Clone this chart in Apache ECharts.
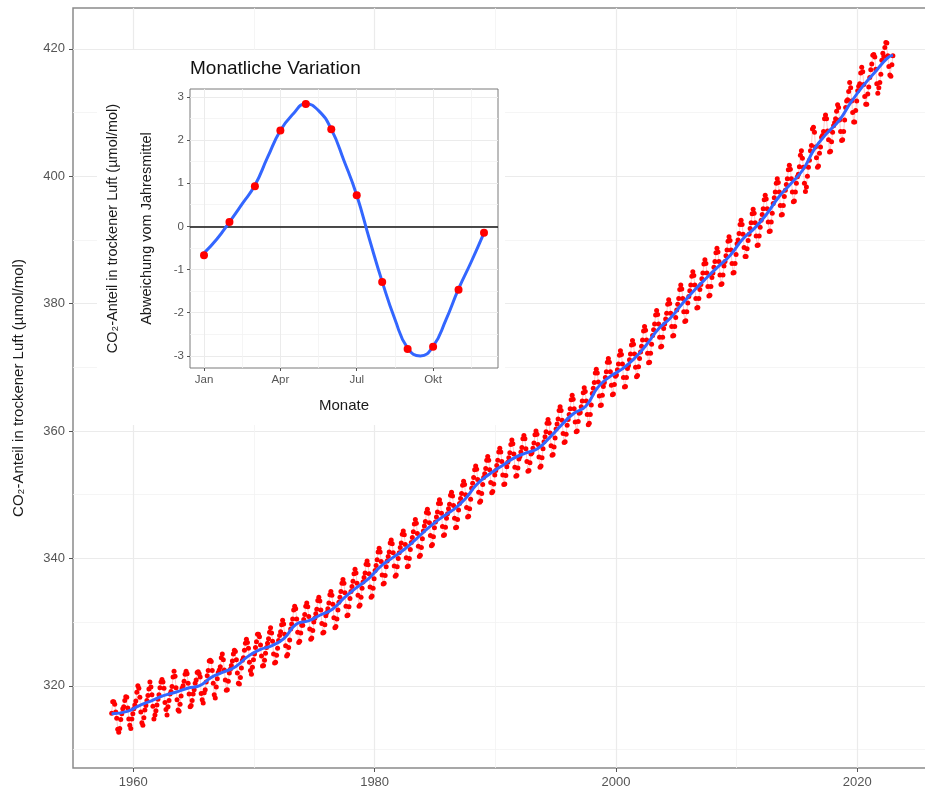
<!DOCTYPE html>
<html>
<head>
<meta charset="utf-8">
<script src="https://cdn.jsdelivr.net/npm/echarts@6.0.0/dist/echarts.min.js"></script>
<style>
  html, body { margin: 0; padding: 0; background: #fff; }
  #main { width: 925px; height: 793px; }
</style>
</head>
<body>
<div id="main"></div>
<script>
// Monatswerte CO2 (Mauna Loa), eine Zeile je Jahr, Jan..Dez
var co2Years = [1958, 1959, 1960, 1961, 1962, 1963, 1964, 1965, 1966, 1967, 1968, 1969,
  1970, 1971, 1972, 1973, 1974, 1975, 1976, 1977, 1978, 1979, 1980, 1981, 1982, 1983,
  1984, 1985, 1986, 1987, 1988, 1989, 1990, 1991, 1992, 1993, 1994, 1995, 1996, 1997,
  1998, 1999, 2000, 2001, 2002, 2003, 2004, 2005, 2006, 2007, 2008, 2009, 2010, 2011,
  2012, 2013, 2014, 2015, 2016, 2017, 2018, 2019, 2020, 2021, 2022];
var co2Monthly = [
  [null, null, 315.7, 317.5, 317.5, 317.1, 315.9, 314.9, 313.2, 312.7, 313.3, 314.7],
  [315.6, 316.4, 316.7, 317.7, 318.3, 318.2, 316.5, 314.8, 313.8, 313.3, 314.8, 315.6],
  [316.4, 317.0, 317.6, 319.0, 320.0, 319.6, 318.2, 315.9, 314.2, 313.8, 315.0, 316.2],
  [316.9, 317.7, 318.5, 319.5, 320.6, 319.8, 318.6, 316.8, 314.8, 315.4, 316.1, 317.0],
  [317.9, 318.6, 319.7, 320.6, 321.0, 320.6, 319.6, 317.4, 316.3, 315.4, 316.7, 317.7],
  [318.7, 319.1, 319.9, 321.4, 322.3, 321.5, 319.7, 317.8, 316.2, 316.0, 317.1, 318.4],
  [319.6, 320.0, 320.7, 321.8, 322.3, 321.9, 320.4, 318.7, 316.7, 316.9, 317.7, 318.7],
  [319.4, 320.4, 320.9, 322.1, 322.2, 321.9, 321.4, 318.8, 317.8, 317.3, 318.9, 319.4],
  [320.6, 321.6, 322.4, 323.9, 324.0, 323.8, 322.4, 320.4, 318.6, 318.1, 319.8, 321.1],
  [322.1, 322.5, 323.0, 324.4, 325.0, 324.1, 322.5, 320.9, 319.3, 319.4, 320.7, 322.0],
  [322.6, 323.2, 323.9, 325.0, 325.6, 325.4, 324.1, 322.0, 320.4, 320.3, 321.3, 322.8],
  [324.0, 324.4, 325.6, 326.7, 327.3, 326.8, 325.9, 323.7, 322.4, 321.8, 322.9, 324.1],
  [325.0, 326.0, 326.9, 328.1, 328.1, 327.7, 326.4, 324.7, 323.1, 323.2, 324.0, 325.1],
  [326.0, 326.7, 327.4, 328.4, 329.1, 328.3, 327.0, 325.0, 323.6, 323.7, 324.8, 325.9],
  [327.1, 327.9, 328.5, 329.6, 330.3, 329.7, 328.1, 326.3, 324.7, 324.9, 326.0, 327.2],
  [328.9, 329.7, 330.5, 331.9, 332.5, 332.1, 330.5, 328.4, 326.8, 327.0, 328.3, 329.5],
  [329.5, 330.4, 331.2, 332.5, 333.0, 332.4, 330.9, 328.9, 327.3, 327.5, 328.7, 330.0],
  [330.6, 331.3, 332.0, 333.4, 333.9, 333.3, 331.9, 329.8, 328.3, 328.4, 329.6, 331.0],
  [331.5, 332.1, 333.0, 334.3, 334.8, 334.2, 332.8, 330.7, 329.1, 329.3, 330.5, 331.9],
  [333.1, 333.9, 334.8, 336.1, 336.7, 336.1, 334.6, 332.5, 331.0, 331.1, 332.4, 333.7],
  [334.8, 335.6, 336.4, 337.6, 338.3, 337.7, 336.1, 334.2, 332.5, 332.7, 333.9, 335.3],
  [336.3, 337.0, 337.7, 339.1, 339.6, 339.0, 337.6, 335.5, 333.9, 334.1, 335.3, 336.8],
  [338.1, 338.9, 339.8, 341.0, 341.6, 341.0, 339.5, 337.4, 336.0, 336.1, 337.3, 338.7],
  [339.6, 340.3, 341.0, 342.4, 342.9, 342.3, 340.9, 338.8, 337.2, 337.4, 338.7, 340.0],
  [340.9, 341.7, 342.4, 343.8, 344.3, 343.7, 342.2, 340.1, 338.7, 338.8, 340.0, 341.4],
  [342.5, 343.3, 344.2, 345.4, 346.1, 345.5, 343.9, 341.9, 340.3, 340.5, 341.7, 343.1],
  [344.3, 345.1, 345.8, 347.2, 347.7, 347.1, 345.6, 343.6, 342.0, 342.2, 343.4, 344.8],
  [345.7, 346.5, 347.3, 348.6, 349.2, 348.6, 347.1, 345.0, 343.6, 343.7, 344.9, 346.3],
  [347.0, 347.8, 348.5, 349.9, 350.4, 349.8, 348.3, 346.3, 344.8, 344.9, 346.1, 347.6],
  [348.6, 349.4, 350.2, 351.5, 352.1, 351.6, 350.0, 348.0, 346.5, 346.6, 347.8, 349.3],
  [351.0, 351.8, 352.7, 353.9, 354.5, 354.0, 352.4, 350.4, 348.8, 349.0, 350.2, 351.6],
  [352.7, 353.3, 354.1, 355.4, 356.0, 355.4, 353.9, 351.9, 350.3, 350.5, 351.7, 353.1],
  [353.8, 354.6, 355.4, 356.7, 357.3, 356.7, 355.2, 353.1, 351.6, 351.7, 353.0, 354.4],
  [355.1, 355.8, 356.6, 357.9, 358.6, 358.0, 356.4, 354.3, 352.9, 353.0, 354.2, 355.6],
  [356.0, 356.7, 357.4, 358.8, 359.3, 358.8, 357.2, 355.2, 353.7, 353.8, 355.0, 356.4],
  [356.6, 357.3, 358.1, 359.4, 360.0, 359.5, 357.9, 355.9, 354.3, 354.5, 355.8, 357.2],
  [358.3, 359.1, 359.9, 361.2, 361.8, 361.2, 359.7, 357.7, 356.2, 356.3, 357.5, 358.9],
  [360.3, 361.1, 361.9, 363.2, 363.8, 363.2, 361.7, 359.6, 358.2, 358.3, 359.5, 360.9],
  [361.8, 362.6, 363.5, 364.9, 365.6, 365.0, 363.5, 361.4, 359.9, 360.0, 361.5, 362.8],
  [362.9, 363.8, 364.7, 366.0, 366.8, 366.2, 364.7, 362.6, 361.0, 361.2, 362.6, 364.1],
  [365.9, 366.7, 367.6, 369.1, 369.7, 369.1, 367.7, 365.5, 364.0, 364.1, 365.6, 367.0],
  [367.6, 368.4, 369.3, 370.8, 371.4, 370.8, 369.3, 367.2, 365.7, 365.8, 367.3, 368.6],
  [368.8, 369.6, 370.5, 371.9, 372.6, 372.0, 370.5, 368.4, 366.9, 367.0, 368.4, 369.8],
  [370.3, 371.2, 372.1, 373.5, 374.2, 373.6, 372.1, 370.0, 368.5, 368.7, 370.1, 371.4],
  [372.4, 373.3, 374.3, 375.7, 376.4, 375.8, 374.3, 372.2, 370.7, 370.8, 372.2, 373.6],
  [375.0, 375.9, 376.8, 378.2, 378.9, 378.3, 376.8, 374.7, 373.2, 373.3, 374.7, 376.1],
  [376.8, 377.6, 378.5, 379.9, 380.6, 380.0, 378.5, 376.4, 374.9, 375.0, 376.4, 377.8],
  [379.0, 379.9, 380.8, 382.2, 382.9, 382.3, 380.8, 378.7, 377.2, 377.3, 378.7, 380.1],
  [381.1, 382.0, 382.9, 384.3, 385.0, 384.4, 382.9, 380.8, 379.3, 379.4, 380.8, 382.2],
  [383.0, 383.9, 384.8, 386.2, 386.9, 386.3, 384.8, 382.7, 381.2, 381.3, 382.7, 384.1],
  [384.8, 385.7, 386.6, 388.0, 388.7, 388.1, 386.6, 384.5, 383.0, 383.1, 384.5, 385.9],
  [386.6, 387.5, 388.4, 389.8, 390.5, 389.9, 388.4, 386.3, 384.8, 384.9, 386.3, 387.7],
  [389.4, 390.0, 391.0, 392.4, 393.1, 392.4, 390.9, 388.8, 387.4, 387.4, 388.6, 389.9],
  [390.9, 391.8, 392.7, 394.1, 394.8, 394.2, 392.7, 390.6, 389.1, 389.2, 390.6, 392.0],
  [393.1, 394.0, 394.9, 396.3, 397.0, 396.4, 394.9, 392.8, 391.3, 391.4, 392.8, 394.2],
  [395.7, 396.6, 397.5, 398.9, 399.6, 399.0, 397.5, 395.4, 393.9, 394.0, 395.4, 396.8],
  [397.8, 398.7, 399.6, 401.0, 401.7, 401.1, 399.6, 397.5, 396.0, 396.1, 397.5, 398.9],
  [399.9, 400.3, 401.5, 403.3, 404.0, 402.8, 401.4, 398.9, 397.6, 398.3, 400.0, 401.4],
  [402.5, 404.0, 404.8, 407.4, 407.7, 406.9, 404.6, 402.9, 401.4, 401.6, 403.6, 404.6],
  [406.1, 406.4, 407.0, 409.0, 409.6, 409.0, 407.1, 405.7, 403.8, 403.9, 405.4, 406.9],
  [407.9, 408.4, 409.0, 410.2, 411.2, 410.8, 408.8, 407.0, 405.6, 405.7, 407.0, 408.8],
  [410.8, 411.8, 412.0, 413.3, 414.7, 413.9, 411.8, 410.0, 408.5, 408.5, 410.3, 411.8],
  [413.4, 414.1, 414.5, 416.2, 417.1, 416.4, 414.4, 412.5, 411.3, 411.3, 412.9, 414.0],
  [415.5, 416.7, 417.6, 419.0, 419.1, 418.7, 416.8, 414.5, 413.0, 413.9, 414.7, 416.0],
  [418.2, 419.3, 418.8, 420.2, 421.0, 420.9, 418.9, 417.2, 415.9, 415.7, 417.5, 418.9]
];

// geglaetteter Trend (blaue Linie)
var trendYears = [1958.2, 1959.5, 1960.5, 1961.5, 1962.5, 1963.5, 1964.5, 1965.5, 1966.5,
  1967.5, 1968.5, 1969.5, 1970.5, 1971.5, 1972.5, 1973.5, 1974.5, 1975.5, 1976.5, 1977.5,
  1978.5, 1979.5, 1980.5, 1981.5, 1982.5, 1983.5, 1984.5, 1985.5, 1986.5, 1987.5, 1988.5,
  1989.5, 1990.5, 1991.5, 1992.5, 1993.5, 1994.5, 1995.5, 1996.5, 1997.5, 1998.5, 1999.5,
  2000.5, 2001.5, 2002.5, 2003.5, 2004.5, 2005.5, 2006.5, 2007.5, 2008.5, 2009.5, 2010.5,
  2011.5, 2012.5, 2013.5, 2014.5, 2015.5, 2016.5, 2017.5, 2018.5, 2019.5, 2020.5, 2021.5,
  2022.5, 2022.96];
var trendValues = [315.6, 315.98, 316.91, 317.64, 318.45, 318.99, 319.62, 320.04, 321.37,
  322.18, 323.05, 324.62, 325.68, 326.32, 327.46, 329.68, 330.19, 331.12, 332.03, 333.84,
  335.41, 336.84, 338.76, 340.12, 341.48, 343.15, 344.87, 346.35, 347.61, 349.31, 351.69,
  353.20, 354.45, 355.70, 356.54, 357.21, 358.96, 360.97, 362.74, 363.88, 366.84, 368.54,
  369.71, 371.32, 373.45, 375.98, 377.70, 379.98, 382.09, 384.02, 385.83, 387.64, 390.10,
  391.85, 394.06, 396.74, 398.81, 401.01, 404.41, 406.76, 408.72, 411.65, 414.21, 416.41,
  418.53, 419.0];

// Einsatz: mittlere Abweichung vom Jahresmittel je Monat
var monthIndex = [0, 1, 2, 3, 4, 5, 6, 7, 8, 9, 10, 11];
var monthDeviation = [-0.67, 0.1, 0.93, 2.22, 2.83, 2.25, 0.72, -1.29, -2.84, -2.79, -1.47, -0.15];
var curveMonths = [0, 0.5, 1, 1.5, 2, 2.5, 3, 3.5, 4, 4.5, 5, 5.5, 6, 6.5, 7, 7.5, 8, 8.5,
  9, 9.5, 10, 10.5, 11];
var curveValues = [-0.62, -0.3, 0.1, 0.52, 0.95, 1.6, 2.22, 2.6, 2.84, 2.68, 2.25, 1.52,
  0.72, -0.3, -1.28, -2.15, -2.82, -3.0, -2.78, -2.17, -1.45, -0.82, -0.15];

// Achsenbeschriftungen
var mainYearTicks = [1960, 1980, 2000, 2020];
var mainYearMinor = [1970, 1990, 2010];
var mainCo2Ticks = [320, 340, 360, 380, 400, 420];
var mainCo2Minor = [310, 330, 350, 370, 390, 410];
var insetMonthTicks = [0, 3, 6, 9];
var insetMonthLabels = ['Jan', 'Apr', 'Jul', 'Okt'];
var insetMonthMinor = [1.5, 4.5, 7.5, 10.5];
var insetDevTicks = [-3, -2, -1, 0, 1, 2, 3];
var insetDevMinor = [-2.5, -1.5, -0.5, 0.5, 1.5, 2.5];

var FONT = 'Liberation Sans, Arial, Helvetica, sans-serif';

var mainPoints = [];
co2Years.forEach(function (yr, i) {
  co2Monthly[i].forEach(function (v, m) {
    if (v != null) mainPoints.push([yr + (m + 0.5) / 12, v]);
  });
});
var trendPoints = trendYears.map(function (x, i) { return [x, trendValues[i]]; });
var insetPoints = monthIndex.map(function (m, i) { return [m, monthDeviation[i]]; });
var curvePoints = curveMonths.map(function (m, i) { return [m, curveValues[i]]; });

function minorAxis(grid, min, max, values, z) {
  return {
    type: 'value', gridIndex: grid, min: min, max: max, z: z,
    axisLine: {show: false, onZero: false}, axisLabel: {show: false},
    axisTick: {show: false, customValues: values},
    splitLine: {show: true, lineStyle: {color: '#f3f3f3', width: 0.8}}
  };
}

var chart = echarts.init(document.getElementById('main'));
chart.setOption({
  animation: false,
  backgroundColor: '#fff',
  textStyle: {fontFamily: FONT},
  title: {
    text: 'Monatliche Variation',
    left: 190, top: 59, padding: 0,
    textStyle: {fontSize: 19, fontWeight: 'normal', color: '#111', fontFamily: FONT}
  },
  graphic: [{
    type: 'rect', left: 97, top: 50, z: 1,
    shape: {width: 408, height: 375},
    style: {fill: '#fff'}
  }],
  grid: [
    {left: 73, top: 8, right: -7, bottom: 25, show: true, borderColor: '#8a8a8a',
     borderWidth: 1.5, outerBoundsMode: 'none'},
    {left: 190, top: 89, right: 427, bottom: 425, show: true, borderColor: '#7a7a7a',
     borderWidth: 1, z: 5, outerBoundsMode: 'none'}
  ],
  xAxis: [
    {
      type: 'value', gridIndex: 0, min: 1955, max: 2026.2,
      axisLine: {show: false, onZero: false},
      axisTick: {customValues: mainYearTicks, length: 4, lineStyle: {color: '#555'}},
      axisLabel: {customValues: mainYearTicks, margin: 8, color: '#555', fontSize: 13,
                  formatter: function (v) { return String(v); }},
      splitLine: {show: true, lineStyle: {color: '#ebebeb', width: 1.2}}
    },
    minorAxis(0, 1955, 2026.2, mainYearMinor, 0),
    {
      type: 'value', gridIndex: 1, min: -0.55, max: 11.55, z: 5,
      name: 'Monate', nameLocation: 'middle', nameGap: 30,
      nameTextStyle: {fontSize: 15, color: '#1a1a1a'},
      axisLine: {show: false, onZero: false},
      axisTick: {customValues: insetMonthTicks, length: 3, lineStyle: {color: '#555'}},
      axisLabel: {customValues: insetMonthTicks, margin: 6, color: '#555', fontSize: 11.5,
                  formatter: function (v) { return insetMonthLabels[insetMonthTicks.indexOf(v)]; }},
      splitLine: {show: true, lineStyle: {color: '#ebebeb', width: 1}}
    },
    minorAxis(1, -0.55, 11.55, insetMonthMinor, 5)
  ],
  yAxis: [
    {
      type: 'value', gridIndex: 0, min: 307.1, max: 426.4,
      name: 'CO₂-Anteil in trockener Luft (µmol/mol)', nameLocation: 'middle', nameGap: 47,
      nameTextStyle: {fontSize: 15, color: '#1a1a1a'},
      axisLine: {show: false, onZero: false},
      axisTick: {customValues: mainCo2Ticks, length: 4, lineStyle: {color: '#555'}},
      axisLabel: {customValues: mainCo2Ticks, margin: 8, color: '#555', fontSize: 13},
      splitLine: {show: true, lineStyle: {color: '#ebebeb', width: 1.2}}
    },
    minorAxis(0, 307.1, 426.4, mainCo2Minor, 0),
    {
      type: 'value', gridIndex: 1, min: -3.28, max: 3.18, z: 5,
      name: 'CO₂-Anteil in trockener Luft (µmol/mol)\nAbweichung vom Jahresmittel',
      nameLocation: 'middle', nameGap: 26,
      nameTextStyle: {fontSize: 14.5, color: '#1a1a1a', lineHeight: 34},
      axisLine: {show: false, onZero: false},
      axisTick: {customValues: insetDevTicks, length: 3, lineStyle: {color: '#555'}},
      axisLabel: {customValues: insetDevTicks, margin: 6, color: '#555', fontSize: 11.5},
      splitLine: {show: true, lineStyle: {color: '#ebebeb', width: 1}}
    },
    minorAxis(1, -3.28, 3.18, insetDevMinor, 5)
  ],
  series: [
    {
      type: 'line', xAxisIndex: 0, yAxisIndex: 0, data: mainPoints, z: 2,
      showSymbol: false, silent: true,
      lineStyle: {color: 'rgba(255,0,0,0.3)', width: 0.7}
    },
    {
      type: 'scatter', xAxisIndex: 0, yAxisIndex: 0, data: mainPoints, z: 3,
      symbolSize: 5, itemStyle: {color: '#ff0000', opacity: 1}
    },
    {
      type: 'line', xAxisIndex: 0, yAxisIndex: 0, data: trendPoints, z: 4,
      smooth: true, showSymbol: false,
      lineStyle: {color: '#3366ff', width: 3}
    },
    {
      type: 'line', xAxisIndex: 2, yAxisIndex: 2, data: curvePoints, z: 6,
      smooth: true, showSymbol: false,
      lineStyle: {color: '#3366ff', width: 3},
      markLine: {
        silent: true, symbol: ['none', 'none'], label: {show: false},
        lineStyle: {color: '#111', width: 1.5, type: 'solid'},
        data: [{yAxis: 0}]
      }
    },
    {
      type: 'scatter', xAxisIndex: 2, yAxisIndex: 2, data: insetPoints, z: 7,
      symbolSize: 8, itemStyle: {color: '#ff0000', opacity: 1}
    }
  ]
});
</script>
</body>
</html>
